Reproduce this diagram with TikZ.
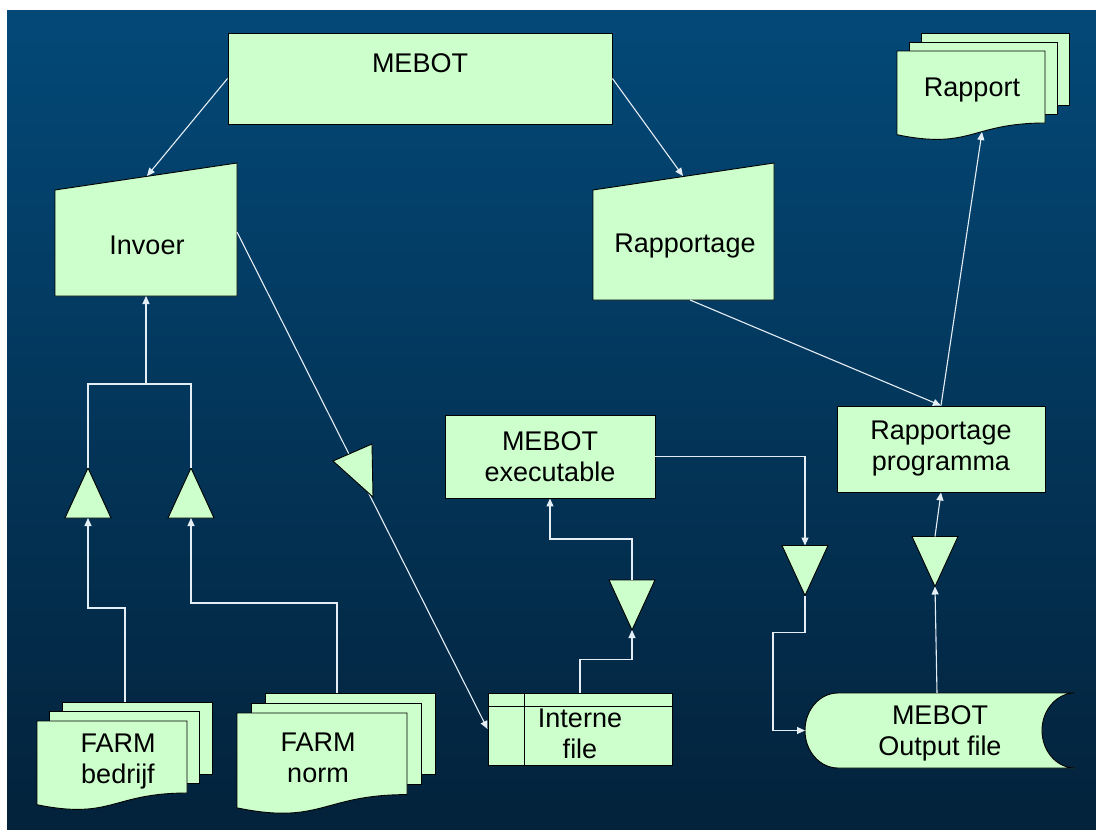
\documentclass[tikz,border=0pt]{standalone}
\usepackage{fontspec}
\setmainfont{Liberation Sans}
\usetikzlibrary{arrows.meta,positioning}
\definecolor{SlideTop}{HTML}{034978}
\definecolor{SlideBottom}{HTML}{03223B}
\definecolor{Leaf}{HTML}{CCFFCC}
\definecolor{Wire}{HTML}{E6EEF5}
\tikzset{
  flowfill/.style={fill=Leaf,draw=black,line width=0.9pt,line join=miter},
  lbl/.style={font=\fontsize{27}{31}\selectfont,align=center,text=black,inner sep=0pt},
  chartbox/.style={flowfill,lbl},
  wire/.style={draw=Wire,line width=1.1pt},
  flow/.style={wire,-{Triangle[length=8pt,width=7pt]}},
}
\newcommand{\docsheet}[4]{%
  \filldraw[flowfill] (#1,#2) -- ({#1+#3},#2) -- ({#1+#3},{#2+0.8*#4})
    .. controls ({#1+0.5*#3},{#2+0.8*#4}) and ({#1+0.5*#3},{#2+1.1*#4}) .. (#1,{#2+0.93*#4}) -- cycle;}
\newcommand{\stackdoc}[6]{%
  \foreach \k in {2,1}
    \filldraw[flowfill] ({#1+\k*#5},{#2-\k*#6}) rectangle ++(#3,{0.8*#4});
  \docsheet{#1}{#2}{#3}{#4}}
\begin{document}
\begin{tikzpicture}[x=1pt,y=-1pt,>=Latex]
  \fill[white] (0,0) rectangle (1096,830);
  \shade[top color=SlideTop,bottom color=SlideBottom] (7,10) rectangle (1096,830);

  \node[chartbox,minimum width=384pt,minimum height=91pt] (mebot) at (420,78.5) {MEBOT\\\mbox{}};
  \node[chartbox,minimum width=210pt,minimum height=83pt] (exe) at (550,456.5) {MEBOT\\executable};
  \node[chartbox,minimum width=208pt,minimum height=86pt] (progr) at (941,449) {Rapportage\\programma};
  \node[chartbox,minimum width=184pt,minimum height=72pt] (interne) at (580,729) {};
  \draw[line width=0.9pt] ([xshift=37pt]interne.north west) -- ([xshift=37pt]interne.south west)
    ([yshift=-14pt]interne.north west) -- ([yshift=-14pt]interne.north east);

  \filldraw[flowfill] (55,190) -- (237,163) -- (237,296) -- (55,296) -- cycle;
  \filldraw[flowfill] (593,190) -- (774,163) -- (774,300) -- (593,300) -- cycle;
  \stackdoc{897}{51}{148}{90}{12}{9}
  \stackdoc{37}{721}{150}{90}{12.5}{9.5}
  \stackdoc{237}{713}{170}{102}{14}{10}
  \filldraw[flowfill] (838,693) -- (1075,693) arc[start angle=270,end angle=90,x radius=33,y radius=37.5]
    -- (838,768) arc[start angle=90,end angle=270,x radius=33,y radius=37.5] -- cycle;

  \node[lbl] (invoer) at (147,245) {Invoer};
  \node[lbl] (rapportage) at (685,246) {Rapportage};
  \node[lbl] (rapport) at (972,90) {Rapport};
  \node[lbl] (bedrijf) at (118,762) {FARM\\bedrijf};
  \node[lbl] (norm) at (318,758) {FARM\\norm};
  \node[lbl] (internetext) at (580,734) {Interne\\file};
  \node[lbl] (output) at (940,733) {MEBOT\\Output file};

  \coordinate (invoer-top) at (147,176);
  \coordinate (invoer-right) at (237,232);
  \coordinate (invoer-bottom) at (146,296);
  \coordinate (rapportage-top) at (683,176);
  \coordinate (rapportage-bottom) at (690,300);
  \coordinate (rapport-bottom) at (982,132);
  \coordinate (bedrijf-top) at (125,702);
  \coordinate (norm-top) at (337,693);
  \coordinate (output-top) at (937,693);
  \coordinate (output-west) at (805,730.5);
  \coordinate (join) at (146,384);

  \foreach \n/\x/\y/\s in {trA/88/493/1,trB/191/493/1,trC/632/605/-1,trD/805/570.5/-1,trE/935/561.5/-1}
  {
    \filldraw[flowfill] (\x,{\y-25*\s}) -- ({\x+23},{\y+25*\s}) -- ({\x-23},{\y+25*\s}) -- cycle;
    \coordinate (\n-tip) at (\x,{\y-25*\s});
    \coordinate (\n-base) at (\x,{\y+25*\s});
  }

  \draw[flow] (mebot.west) -- (invoer-top);
  \draw[flow] (mebot.east) -- (rapportage-top);
  \draw[flow] (invoer-right) -- (interne.west);
  \draw[flow] (rapportage-bottom) -- (progr.north);
  \draw[flow] (progr.north) -- (rapport-bottom);
  \draw[wire] (trA-tip) |- (join) -| (trB-tip);
  \draw[flow] (join) -- (invoer-bottom);
  \draw[flow] (bedrijf-top) -- ++(0,-94) -| (trA-base);
  \draw[flow] (norm-top) -- ++(0,-90) -| (trB-base);
  \draw[flow] (interne.north) -- ++(0,-33) -| (trC-tip);
  \draw[flow] (trC-base) -- ++(0,-41) -| (exe.south);
  \draw[flow] (exe.east) -| (trD-base);
  \draw[flow] (trD-tip) -- ++(0,37) -- ++(-32,0) |- (output-west);
  \draw[flow] (output-top) -- (trE-tip);
  \draw[flow] (trE-base) -- (progr.south);
  \filldraw[flowfill] (333,461) -- (372,444) -- (373,497) -- cycle;
\end{tikzpicture}
\end{document}
